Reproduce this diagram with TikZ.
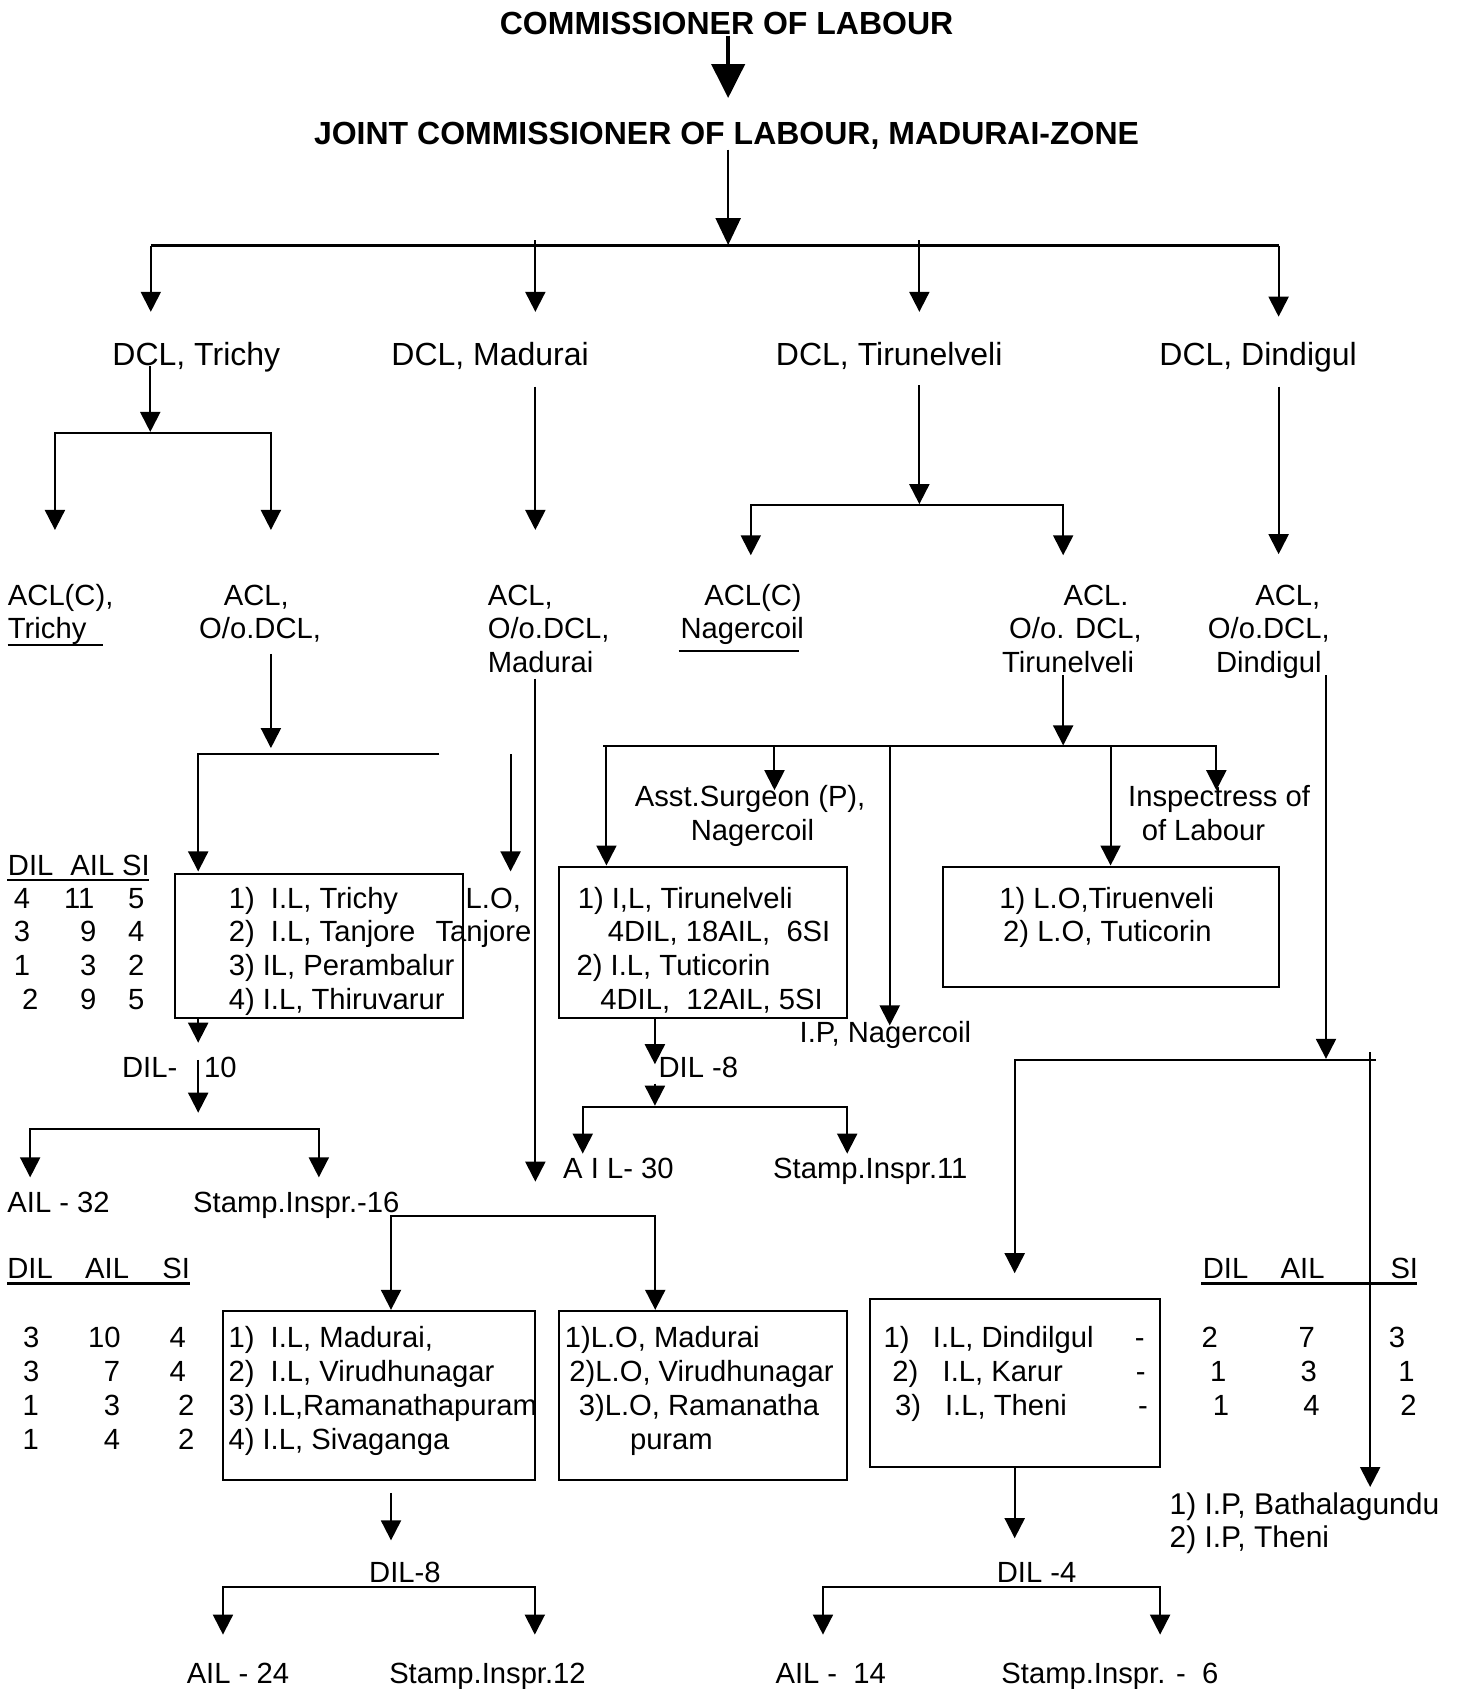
\documentclass[tikz,border=0pt]{standalone}
\usepackage{fontspec}
\setmainfont{Liberation Sans}
\usetikzlibrary{arrows.meta}
\newcommand\fsn{\fontsize{14.6}{17.2}\selectfont}
\newcommand\fsd{\fontsize{16}{18}\selectfont}
\newcommand\fsp{\fontsize{15}{17.2}\selectfont}
\newcommand\fsb{\fontsize{16}{18}\selectfont\bfseries}
\begin{document}
\begin{tikzpicture}[x=0.53846pt,y=-0.53846pt,
  tx/.style={inner sep=0pt,anchor=base west,font=\fsn},
  tcn/.style={inner sep=0pt,anchor=base,font=\fsn},
  tb/.style={inner sep=0pt,anchor=base,font=\fsb},
  ln/.style={line width=1pt},
  ar/.style={line width=1pt,-{Triangle[width=10pt,length=10pt]}},
  br/.style={line width=1pt,{Triangle[width=10pt,length=10pt]}-{Triangle[width=10pt,length=10pt]}},
  bx/.style={draw,line width=1pt},
  ul/.style={line width=1.4pt}]
\useasboundingbox (0,0) rectangle (1352,1568);

% ---------- titles
\node[tb] (title) at (674.5,32) {COMMISSIONER OF LABOUR};
\node[tb] (jcl) at (674.5,134) {JOINT COMMISSIONER OF LABOUR, MADURAI-ZONE};

\coordinate (c0a) at (676,33); \coordinate (c0b) at (676,91);
\draw[line width=2.2pt,-{Triangle[width=16.5pt,length=17pt]}] (c0a) -- (c0b);
\coordinate (c1a) at (676,139); \coordinate (c1b) at (676,227.5);
\draw[line width=1.2pt,-{Triangle[width=12.5pt,length=13.5pt]}] (c1a) -- (c1b);

\coordinate (bL) at (140,228); \coordinate (bR) at (1187,228);
\draw[line width=1.5pt] (bL) -- (bR);
\coordinate (dT) at (140,289.5); \coordinate (dMa) at (497,289.5);
\coordinate (dTn) at (853.5,289.5); \coordinate (dD) at (1187,294);
\coordinate (mA) at (497,223); \coordinate (tA) at (853.5,223);
\draw[ar] (bL) -- (dT); \draw[ar] (mA) -- (dMa); \draw[ar] (tA) -- (dTn); \draw[ar] (bR) -- (dD);

% ---------- DCL row
\node[tx,font=\fsd] (dclT) at (104,339) {DCL, Trichy};
\node[tx,font=\fsd] (dclM) at (363,339) {DCL, Madurai};
\node[tx,font=\fsd] (dclTn) at (720,339) {DCL, Tirunelveli};
\node[tx,font=\fsd] (dclD) at (1076,339) {DCL, Dindigul};

% DCL Trichy
\coordinate (s1) at (139.5,340); \coordinate (s2) at (139.5,401);
\draw[ar] (s1) -- (s2);
\coordinate (sLd) at (51,492); \coordinate (sL) at (51,402);
\coordinate (sR) at (251.5,402); \coordinate (sRd) at (251.5,492);
\draw[br] (sLd) -- (sL) -- (sR) -- (sRd);
% DCL Madurai
\coordinate (m1) at (497,359); \coordinate (m2) at (497,492);
\draw[ar] (m1) -- (m2);
% DCL Tirunelveli
\coordinate (n1) at (853.5,357.5); \coordinate (n2) at (853.5,468);
\draw[ar] (n1) -- (n2);
\coordinate (nLd) at (697,515.5); \coordinate (nL) at (697,469);
\coordinate (nR) at (987,469); \coordinate (nRd) at (987,515.5);
\draw[br] (nLd) -- (nL) -- (nR) -- (nRd);
% DCL Dindigul
\coordinate (g1) at (1187,359); \coordinate (g2) at (1187,514.5);
\draw[ar] (g1) -- (g2);

% ---------- ACL row
\node[tx] (acT1) at (7,562) {ACL(C),};
\node[tx] (acT2) at (7,593) {Trichy};
\coordinate (uT1) at (7,599); \coordinate (uT2) at (96,599);
\draw[line width=1.1pt] (uT1) -- (uT2);
\node[tx] (acO1) at (207.5,562) {ACL,};
\node[tx] (acO2) at (184.6,593) {O/o.DCL,};
\node[tx] (acM1) at (452.5,562) {ACL,};
\node[tx] (acM2) at (452.5,593) {O/o.DCL,};
\node[tx] (acM3) at (452.5,624) {Madurai};
\node[tx] (acN1) at (653.5,562) {ACL(C)};
\node[tx] (acN2) at (631.5,593) {Nagercoil};
\coordinate (uN1) at (630,604); \coordinate (uN2) at (742,604);
\draw[line width=1.1pt] (uN1) -- (uN2);
\node[tx] (acTn1) at (987,562) {ACL.};
\node[tx] (acTn2) at (936.5,593) {O/o. DCL,};
\node[tx] (acTn3) at (930,624) {Tirunelveli};
\node[tx] (acD1) at (1165,562) {ACL,};
\node[tx] (acD2) at (1121,593) {O/o.DCL,};
\node[tx] (acD3) at (1128.6,624) {Dindigul};

% ACL Trichy branch
\coordinate (o1) at (251.5,607); \coordinate (o2) at (251.5,694.5);
\draw[ar] (o1) -- (o2);
\coordinate (oR) at (408,700); \coordinate (oL) at (184,700); \coordinate (oLd) at (184,809);
\draw[ar] (oR) -- (oL) -- (oLd);
\coordinate (lo1) at (474,700); \coordinate (lo2) at (474,809);
\draw[ar] (lo1) -- (lo2);
% ACL Madurai long line
\coordinate (ma1) at (497,630); \coordinate (ma2) at (497,1097);
\draw[ar] (ma1) -- (ma2);
% ACL Tirunelveli branch
\coordinate (q1) at (987,627); \coordinate (q2) at (987,692);
\draw[ar] (q1) -- (q2);
\coordinate (qL) at (560,692.4); \coordinate (qR) at (1129.2,692.4); \coordinate (qRd) at (1129.2,733.6);
\draw[ar] (qL) -- (qR) -- (qRd);
\coordinate (qa) at (563,692.4); \coordinate (qad) at (563,803.5);
\coordinate (qb) at (719,692.4); \coordinate (qbd) at (719,733.6);
\coordinate (qc) at (826,692.4); \coordinate (qcd) at (826,952);
\coordinate (qe) at (1031,692.4); \coordinate (qed) at (1031,803.5);
\draw[ar] (qa) -- (qad); \draw[ar] (qb) -- (qbd); \draw[ar] (qc) -- (qcd); \draw[ar] (qe) -- (qed);

\node[tx] (as1) at (589,749) {Asst.Surgeon (P),};
\node[tx] (as2) at (641,780) {Nagercoil};
\node[tx] (in1) at (1047,749) {Inspectress of};
\node[tx] (in2) at (1059.6,780) {of Labour};

% ---------- Trichy table and box
\node[tx] (h1a) at (7,812.5) {DIL};
\node[tx] (h1b) at (65,812.5) {AIL};
\node[tx] (h1c) at (113,812.5) {SI};
\coordinate (u1a) at (6.5,817); \coordinate (u1b) at (138,817);
\draw[ul] (u1a) -- (u1b);
\foreach \x/\y/\t [count=\i] in {
  20.5/843/4, 73.5/843/11, 126.5/843/5,
  20.5/874.5/3, 82/874.5/9, 126.5/874.5/4,
  20.5/906/1, 82/906/3, 126.5/906/2,
  28/937.5/2, 82/937.5/9, 126.5/937.5/5}
  \node[tcn] (na\i) at (\x,\y) {\t};

\draw[bx] (162,811) rectangle (430,945);
\node[tx] (tb1) at (212,843) {1)~~I.L, Trichy};
\node[tx] (tb2) at (212,874.5) {2)~~I.L, Tanjore};
\node[tx] (tb3) at (212,906) {3) IL, Perambalur};
\node[tx] (tb4) at (212,937.5) {4) I.L, Thiruvarur};
\node[tx] (lo1t) at (432,843) {L.O,};
\node[tx] (lo2t) at (404,874.5) {Tanjore};

\coordinate (tb1a) at (184,945); \coordinate (tb1b) at (184,968);
\draw[ar] (tb1a) -- (tb1b);
\node[tx] (dil10) at (113,1000) {DIL-\hspace{13.4pt}10};
\coordinate (tb2a) at (184,984); \coordinate (tb2b) at (184,1033);
\draw[ar] (tb2a) -- (tb2b);
\coordinate (tbLd) at (28,1093); \coordinate (tbL) at (28,1048.5);
\coordinate (tbR) at (296,1048.5); \coordinate (tbRd) at (296,1093);
\draw[br] (tbLd) -- (tbL) -- (tbR) -- (tbRd);
\node[tx] (ail32) at (6.5,1126) {AIL - 32};
\node[tx] (si16) at (179,1126) {Stamp.Inspr.-16};

% ---------- Tirunelveli boxes
\draw[bx] (519,805) rectangle (786.5,945);
\node[tx] (tn1) at (536,843) {1) I,L, Tirunelveli};
\node[tx] (tn2) at (564,874.5) {4DIL, 18AIL,~~6SI};
\node[tx] (tn3) at (535,906) {2) I.L, Tuticorin};
\node[tx] (tn4) at (557,937.5) {4DIL,~~12AIL, 5SI};
\draw[bx] (875.5,805) rectangle (1187,916);
\node[tcn] (lt1) at (1027.5,843) {1) L.O,Tiruenveli};
\node[tcn] (lt2) at (1028,874.5) {2) L.O, Tuticorin};
\node[tx] (ipn) at (742,968) {I.P, Nagercoil};

\coordinate (tn1a) at (608,945); \coordinate (tn1b) at (608,988);
\draw[ar] (tn1a) -- (tn1b);
\node[tx] (dil8a) at (611,1000) {DIL -8};
\coordinate (tn2a) at (608,1006); \coordinate (tn2b) at (608,1026.5);
\draw[ar] (tn2a) -- (tn2b);
\coordinate (tnLd) at (541,1071); \coordinate (tnL) at (541,1027.6);
\coordinate (tnR) at (786.5,1027.6); \coordinate (tnRd) at (786.5,1071);
\draw[br] (tnLd) -- (tnL) -- (tnR) -- (tnRd);
\node[tx] (ail30) at (522.5,1094) {A I L- 30};
\node[tx] (si11) at (717.4,1094) {Stamp.Inspr.11};

% ---------- Madurai boxes
\coordinate (mbLd) at (363,1216); \coordinate (mbL) at (363,1129);
\coordinate (mbR) at (608.3,1129); \coordinate (mbRd) at (608.3,1216);
\draw[br] (mbLd) -- (mbL) -- (mbR) -- (mbRd);

\node[tx] (h2a) at (6.5,1187) {DIL};
\node[tx] (h2b) at (78.7,1187) {AIL};
\node[tx] (h2c) at (150.4,1187) {SI};
\coordinate (u2a) at (6.5,1191.5); \coordinate (u2b) at (176,1191.5);
\draw[ul] (u2a) -- (u2b);
\foreach \x/\y/\t [count=\i] in {
  29/1251/3, 97/1251/10, 165/1251/4,
  29/1282.5/3, 104/1282.5/7, 165/1282.5/4,
  28.5/1314/1, 104/1314/3, 173/1314/2,
  28.5/1345.5/1, 104/1345.5/4, 173/1345.5/2}
  \node[tcn] (nb\i) at (\x,\y) {\t};

\draw[bx] (207,1217) rectangle (496.5,1373.5);
\node[tx] (md1) at (211.8,1251) {1)~~I.L, Madurai,};
\node[tx] (md2) at (211.8,1282.5) {2)~~I.L, Virudhunagar};
\node[tx] (md3) at (211.8,1314) {3) I.L,Ramanathapuram};
\node[tx] (md4) at (211.8,1345.5) {4) I.L, Sivaganga};
\draw[bx] (519,1217) rectangle (786.5,1373.5);
\node[tx] (ml1) at (524,1251) {1)L.O, Madurai};
\node[tx] (ml2) at (528.3,1282.5) {2)L.O, Virudhunagar};
\node[tx] (ml3) at (537,1314) {3)L.O, Ramanatha};
\node[tx] (ml4) at (584.5,1345.5) {puram};

\coordinate (md1a) at (363,1386); \coordinate (md1b) at (363,1430);
\draw[ar] (md1a) -- (md1b);
\node[tx] (dil8b) at (342.4,1469) {DIL-8};
\coordinate (mdLd) at (207,1517.5); \coordinate (mdL) at (207,1473);
\coordinate (mdR) at (496.5,1473); \coordinate (mdRd) at (496.5,1517.5);
\draw[br] (mdLd) -- (mdL) -- (mdR) -- (mdRd);
\node[tx] (ail24) at (173,1563) {AIL - 24};
\node[tx] (si12) at (361,1563) {Stamp.Inspr.12};

% ---------- Dindigul branch
\coordinate (dg1) at (1231,627); \coordinate (dg2) at (1231,983);
\draw[ar] (dg1) -- (dg2);
\coordinate (dgR) at (1277,984); \coordinate (dgL) at (942,984); \coordinate (dgLd) at (942,1182);
\draw[ar] (dgR) -- (dgL) -- (dgLd);
\coordinate (dv1) at (1272,977); \coordinate (dv2) at (1272,1380.5);
\draw[ar] (dv1) -- (dv2);

\draw[bx] (808,1206) rectangle (1077,1362);
\node[tx] (dd1a) at (820,1251) {1)};
\node[tx] (dd1b) at (865.7,1251) {I.L, Dindilgul};
\node[tcn] (dd1c) at (1058,1251) {-};
\node[tx] (dd2a) at (828,1282.5) {2)};
\node[tx] (dd2b) at (874.8,1282.5) {I.L, Karur};
\node[tcn] (dd2c) at (1059,1282.5) {-};
\node[tx] (dd3a) at (830.6,1314) {3)};
\node[tx] (dd3b) at (877,1314) {I.L, Theni};
\node[tcn] (dd3c) at (1061,1314) {-};

\node[tx] (h3a) at (1116.3,1187) {DIL};
\node[tx] (h3b) at (1188.6,1187) {AIL};
\node[tx] (h3c) at (1290.5,1187) {SI};
\coordinate (u3a) at (1115,1191.5); \coordinate (u3b) at (1315.5,1191.5);
\draw[ul] (u3a) -- (u3b);
\foreach \x/\y/\t [count=\i] in {
  1123/1251/2, 1213/1251/7, 1297/1251/3,
  1131/1282.5/1, 1215/1282.5/3, 1305.6/1282.5/1,
  1133.5/1314/1, 1217.5/1314/4, 1307.6/1314/2}
  \node[tcn] (nc\i) at (\x,\y) {\t};

\node[tx,font=\fsp] (ip1) at (1085.4,1406) {1) I.P, Bathalagundu};
\node[tx,font=\fsp] (ip2) at (1085.4,1437) {2) I.P, Theni};

\coordinate (dd1) at (942,1362); \coordinate (dd2) at (942,1428);
\draw[ar] (dd1) -- (dd2);
\node[tx] (dil4) at (925,1469) {DIL -4};
\coordinate (ddLd) at (764,1517.5); \coordinate (ddL) at (764,1473);
\coordinate (ddR) at (1077,1473); \coordinate (ddRd) at (1077,1517.5);
\draw[br] (ddLd) -- (ddL) -- (ddR) -- (ddRd);
\node[tx] (ail14) at (719.6,1563) {AIL -~~14};
\node[tx] (si6) at (929.3,1563) {Stamp.Inspr. -~~6};
\end{tikzpicture}
\end{document}
